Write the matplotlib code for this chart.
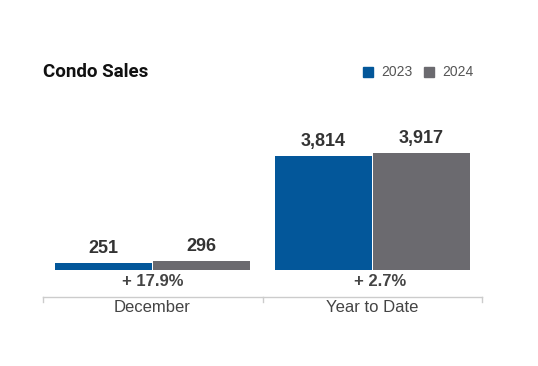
import matplotlib.pyplot as plt
from matplotlib.patches import Rectangle
from matplotlib.lines import Line2D

plt.rcParams['font.family'] = ['Liberation Sans', 'DejaVu Sans']

# Data
categories = ['December', 'Year to Date']
sales_2023 = [251, 3814]
sales_2024 = [296, 3917]
pct_change = ['+ 17.9%', '+ 2.7%']
years = ['2023', '2024']

blue = '#03579a'
gray = '#6b6a6f'

W, H = 538, 366
fig = plt.figure(figsize=(W / 100, H / 100), dpi=100)

def fx(px):
    return px / W

def fy(py):
    return 1 - py / H

# plot area: x 43..482, bars sit on y=270
ax = fig.add_axes([fx(43), fy(270), fx(482) - fx(43), fy(100) - fy(270)])
ax.set_xlim(-0.5, 1.5)
ax.set_ylim(0, 5690)
ax.axis('off')

x = range(len(categories))
bw = 0.442
off = 0.2235
ax.bar([i - off for i in x], sales_2023, width=bw, color=blue)
ax.bar([i + off for i in x], sales_2024, width=bw, color=gray)

for i in x:
    ax.annotate(f'{sales_2023[i]:,}', (i - off, sales_2023[i]), xytext=(0, 6),
                textcoords='offset pixels', ha='center', va='bottom',
                fontsize=13, fontweight='bold', color='#333333')
    ax.annotate(f'{sales_2024[i]:,}', (i + off, sales_2024[i]), xytext=(0, 6),
                textcoords='offset pixels', ha='center', va='bottom',
                fontsize=13, fontweight='bold', color='#333333')

# bottom axis line with ticks
line_y = fy(296.5)
fig.add_artist(Line2D([fx(43), fx(482)], [line_y, line_y], color='#cccccc', lw=1))
for tx in [43, 262.5, 482]:
    fig.add_artist(Line2D([fx(tx), fx(tx)], [line_y, fy(302)], color='#cccccc', lw=1))

centers = [152.5, 380]
for i, c in enumerate(centers):
    fig.text(fx(c), fy(281), pct_change[i], ha='center', va='center',
             fontsize=12, fontweight='bold', color='#444444')
for i, c in enumerate([152.5, 372]):
    fig.text(fx(c), fy(307), categories[i], ha='center', va='center',
             fontsize=12, color='#444444')

# title
fig.text(fx(43), fy(72), 'Condo Sales', ha='left', va='center',
         fontsize=13.5, fontweight='bold', family=['Roboto', 'DejaVu Sans'],
         color='#111111')

# legend
for (sx, tx), lab, col in zip([(363, 381), (424, 442)], years, [blue, gray]):
    fig.add_artist(Rectangle((fx(sx), fy(77)), fx(10), 10 / H, color=col))
    fig.text(fx(tx), fy(72), lab, ha='left', va='center', fontsize=10, color='#555555')

fig.savefig('out.png', dpi=100)
